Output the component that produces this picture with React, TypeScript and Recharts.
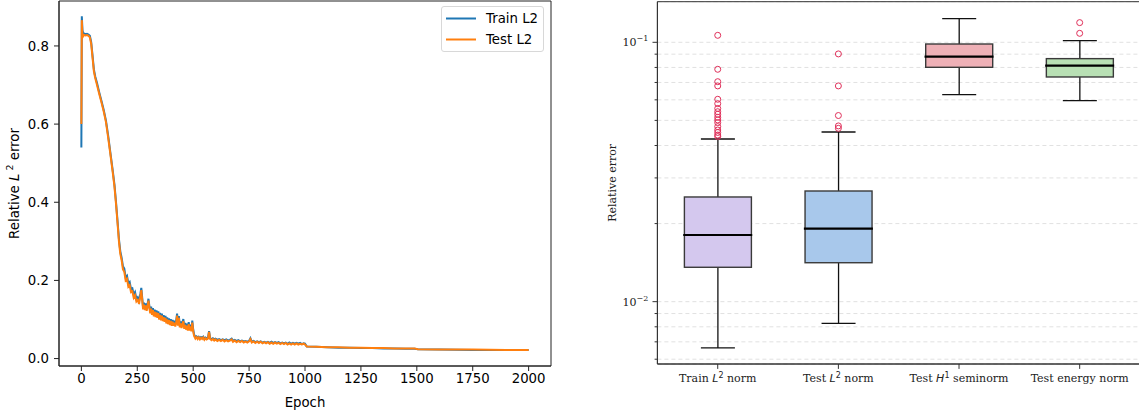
import React from 'react';
import {
  LineChart,
  Line,
  XAxis,
  YAxis,
  ComposedChart,
  Bar,
  Scatter,
  CartesianGrid,
  ReferenceArea,
} from 'recharts';

// ---------------- Left panel data ----------------
const epochs = [
  0, 2, 5, 8, 12, 18, 25, 32, 38, 44, 50, 56, 62, 70, 80, 90, 100, 110, 120, 130,
  140, 148, 155, 162, 168, 174, 180, 186, 192, 198, 204, 210, 216, 222, 228, 234, 240, 246, 252, 258,
  264, 268, 272,
  276, 280, 284, 288, 292, 296, 300, 304, 308, 312, 316, 320, 324, 328, 332, 336, 340, 344, 348, 352,
  356, 360, 364, 368, 372, 376, 380, 384, 388, 392, 396, 400, 404, 408, 412, 416, 420, 424, 428, 432,
  436, 440, 444, 448, 452, 456, 460, 464, 468, 472, 476, 480, 484, 488, 492, 496, 500,
  504, 510, 515, 520, 525, 530, 535, 540, 545, 550, 555, 560, 566, 571, 576, 582, 588, 594, 600, 608,
  616, 624, 632, 640, 648, 656, 664, 672, 678, 686, 694, 702, 710, 718, 726, 734, 742, 750, 756, 762,
  770, 778, 786, 794, 802, 810, 818, 826, 834, 842, 850, 858, 866, 874, 882, 890, 898, 906, 914, 922,
  930, 938, 946, 954, 962, 970, 978, 986, 994, 1000, 1008,
  1050, 1100, 1150, 1200, 1250, 1300, 1350, 1400, 1450, 1490, 1505, 1600, 1750, 1900, 2000,
];
const trainL2 = [
  0.540, 0.876, 0.840, 0.833, 0.832, 0.830, 0.831, 0.829, 0.826, 0.810, 0.775, 0.740, 0.722, 0.705, 0.681, 0.659, 0.636, 0.609, 0.570, 0.526,
  0.482, 0.445, 0.400, 0.350, 0.306, 0.275, 0.258, 0.236, 0.230, 0.208, 0.212, 0.192, 0.196, 0.178, 0.180, 0.164, 0.170, 0.153, 0.157, 0.147,
  0.166, 0.181, 0.156,
  0.131, 0.143, 0.129, 0.141, 0.127, 0.139, 0.153, 0.135, 0.121, 0.133, 0.117, 0.129, 0.113, 0.125, 0.111, 0.123, 0.109, 0.121, 0.105, 0.117,
  0.103, 0.115, 0.101, 0.111, 0.099, 0.109, 0.095, 0.105, 0.093, 0.103, 0.091, 0.101, 0.089, 0.099, 0.089, 0.097, 0.087, 0.097, 0.115, 0.089,
  0.109, 0.085, 0.095, 0.083, 0.093, 0.101, 0.081, 0.091, 0.079, 0.089, 0.077, 0.093, 0.077, 0.087, 0.075, 0.097, 0.075,
  0.062, 0.055, 0.057, 0.053, 0.056, 0.052, 0.055, 0.053, 0.056, 0.051, 0.054, 0.052, 0.053, 0.070, 0.052, 0.050, 0.052, 0.049, 0.051, 0.048,
  0.050, 0.047, 0.049, 0.047, 0.049, 0.046, 0.048, 0.051, 0.046, 0.048, 0.045, 0.047, 0.044, 0.046, 0.044, 0.045, 0.043, 0.045, 0.052, 0.043,
  0.045, 0.042, 0.044, 0.042, 0.044, 0.041, 0.043, 0.041, 0.043, 0.040, 0.043, 0.040, 0.042, 0.040, 0.042, 0.039, 0.041, 0.039, 0.041, 0.038,
  0.041, 0.038, 0.040, 0.038, 0.040, 0.038, 0.040, 0.037, 0.039, 0.038, 0.031,
  0.030, 0.029, 0.028, 0.028, 0.027, 0.027, 0.026, 0.026, 0.025, 0.025, 0.024, 0.023, 0.022, 0.022, 0.022,
];
const testL2 = [
  0.600, 0.866, 0.822, 0.825, 0.828, 0.827, 0.828, 0.826, 0.822, 0.805, 0.770, 0.735, 0.718, 0.700, 0.677, 0.655, 0.632, 0.605, 0.565, 0.522,
  0.478, 0.440, 0.395, 0.345, 0.300, 0.268, 0.252, 0.228, 0.222, 0.200, 0.204, 0.184, 0.188, 0.170, 0.172, 0.156, 0.162, 0.146, 0.150, 0.140,
  0.160, 0.175, 0.150,
  0.126, 0.138, 0.124, 0.136, 0.122, 0.134, 0.148, 0.130, 0.116, 0.128, 0.112, 0.124, 0.108, 0.120, 0.106, 0.118, 0.104, 0.116, 0.100, 0.112,
  0.098, 0.110, 0.096, 0.106, 0.094, 0.104, 0.090, 0.100, 0.088, 0.098, 0.086, 0.096, 0.084, 0.094, 0.084, 0.092, 0.082, 0.092, 0.110, 0.084,
  0.104, 0.080, 0.090, 0.078, 0.088, 0.096, 0.076, 0.086, 0.074, 0.084, 0.072, 0.088, 0.072, 0.082, 0.070, 0.092, 0.070,
  0.058, 0.051, 0.055, 0.050, 0.054, 0.049, 0.053, 0.050, 0.054, 0.048, 0.052, 0.049, 0.051, 0.068, 0.050, 0.047, 0.050, 0.046, 0.049, 0.045,
  0.048, 0.045, 0.048, 0.044, 0.047, 0.044, 0.046, 0.049, 0.043, 0.046, 0.042, 0.045, 0.042, 0.045, 0.041, 0.044, 0.041, 0.044, 0.050, 0.041,
  0.044, 0.040, 0.043, 0.040, 0.043, 0.039, 0.042, 0.039, 0.042, 0.038, 0.041, 0.038, 0.041, 0.038, 0.040, 0.037, 0.040, 0.037, 0.040, 0.036,
  0.039, 0.036, 0.039, 0.036, 0.039, 0.036, 0.038, 0.036, 0.038, 0.036, 0.031,
  0.030, 0.029, 0.029, 0.028, 0.028, 0.027, 0.027, 0.026, 0.026, 0.026, 0.024, 0.023, 0.023, 0.022, 0.022,
];
const epochTicks = [0, 250, 500, 750, 1000, 1250, 1500, 1750, 2000];
const errorTicks = [0, 0.2, 0.4, 0.6, 0.8];
const lineNames = ['Train L2', 'Test L2'];
const lineColors = ['#1f77b4', '#ff7f0e'];

// ---------------- Right panel data ----------------
const boxCategories = ['Train L2 norm', 'Test L2 norm', 'Test H1 seminorm', 'Test energy norm'];
const boxLabelParts: string[][] = [
  ['Train ', 'L', '2', ' norm'],
  ['Test ', 'L', '2', ' norm'],
  ['Test ', 'H', '1', ' seminorm'],
  ['Test energy norm', '', '', ''],
];
const whiskerLow = [0.00663, 0.00825, 0.0629, 0.0596];
const boxQ1 = [0.01357, 0.01413, 0.0801, 0.0735];
const boxMedian = [0.01807, 0.01912, 0.088, 0.0813];
const boxQ3 = [0.02533, 0.02671, 0.0985, 0.0865];
const whiskerHigh = [0.04239, 0.0451, 0.1234, 0.1015];
const boxColors = ['#d4c8ee', '#a8c8eb', '#eeb0b6', '#b8e0b4'];
const outlierCategoryIndex = [
  0, 0, 0, 0, 0, 0, 0, 0, 0, 0, 0, 0, 0, 0, 0, 0, 0,
  1, 1, 1, 1, 1,
  3, 3,
];
const outlierValues = [
  0.1064, 0.0787, 0.0705, 0.0679, 0.0603, 0.058, 0.0556, 0.054, 0.0528, 0.0514, 0.0502, 0.049, 0.0473, 0.0459, 0.0449, 0.0439, 0.0433,
  0.0902, 0.0679, 0.0522, 0.0476, 0.0466,
  0.1191, 0.1083,
];
const logTicks = [
  0.006, 0.007, 0.008, 0.009, 0.01, 0.02, 0.03, 0.04, 0.05, 0.06, 0.07, 0.08, 0.09, 0.1,
];

const lineData = epochs.map((e, i) => ({ epoch: e, train: trainL2[i], test: testL2[i] }));
const boxData = boxCategories.map((c, i) => ({
  cat: c,
  lower: [whiskerLow[i], boxQ1[i]],
  box: [boxQ1[i], boxQ3[i]],
  upper: [boxQ3[i], whiskerHigh[i]],
  idx: i,
}));
const medianData = boxCategories.map((c, i) => ({ cat: c, v: boxMedian[i] }));
const outlierData = outlierValues.map((v, i) => ({ cat: boxCategories[outlierCategoryIndex[i]], v }));

const SANS = 'DejaVu Sans';
const SERIF = 'DejaVu Serif';
const BOX_W = 67;
const CAP_W = 34;
const LIN_X: [number, number] = [-100, 2100];
const LIN_Y: [number, number] = [-0.019, 0.915];
const LOG_DOMAIN: [number, number] = [0.00575, 0.1434];

const LeftYLabel = (props: any) => {
  const vb = props.viewBox || { x: 0, y: 0, width: 0, height: 0 };
  const cx = vb.x + 14;
  const cy = vb.y + vb.height / 2;
  return (
    <text
      x={cx}
      y={cy}
      transform={`rotate(-90 ${cx} ${cy})`}
      textAnchor="middle"
      dominantBaseline="central"
      fontFamily={SANS}
      fontSize={13.3}
      fill="#000"
    >
      <tspan>Relative </tspan>
      <tspan fontStyle="italic">L</tspan>
      <tspan fontSize={9.5} dy={-5}>{' 2'}</tspan>
      <tspan dy={5}> error</tspan>
    </text>
  );
};

const LeftXLabel = (props: any) => {
  const vb = props.viewBox || { x: 0, y: 0, width: 0, height: 0 };
  return (
    <text
      x={vb.x + vb.width / 2}
      y={vb.y + 36}
      textAnchor="middle"
      dominantBaseline="central"
      fontFamily={SANS}
      fontSize={13.3}
      fill="#000"
    >
      Epoch
    </text>
  );
};

const RightYLabel = (props: any) => {
  const vb = props.viewBox || { x: 0, y: 0, width: 0, height: 0 };
  const cx = vb.x + 13;
  const cy = vb.y + vb.height / 2;
  return (
    <text
      x={cx}
      y={cy}
      transform={`rotate(-90 ${cx} ${cy})`}
      textAnchor="middle"
      dominantBaseline="central"
      fontFamily={SERIF}
      fontSize={11}
      fill="#222"
    >
      Relative error
    </text>
  );
};

const LogTick = (props: any) => {
  const { x, y, payload } = props;
  const v = payload.value as number;
  const e = Math.round(Math.log10(v));
  const major = Math.abs(v - Math.pow(10, e)) < 1e-12;
  const len = major ? 4.9 : 2.8;
  return (
    <g>
      <line x1={x} x2={x - len} y1={y} y2={y} stroke="#333" strokeWidth={1} />
      {major && (
        <text
          x={x - 9}
          y={y}
          textAnchor="end"
          dominantBaseline="central"
          fontFamily={SERIF}
          fontSize={11}
          fill="#222"
        >
          <tspan>10</tspan>
          <tspan fontSize={8} dy={-4}>{'\u2212' + Math.abs(e)}</tspan>
        </text>
      )}
    </g>
  );
};

const CatTick = (props: any) => {
  const { x, y, payload } = props;
  const i = boxCategories.indexOf(payload.value);
  const parts = boxLabelParts[i] || [String(payload.value), '', '', ''];
  return (
    <g>
      <line x1={x} x2={x} y1={y} y2={y + 4.9} stroke="#333" strokeWidth={1} />
      <text x={x} y={y + 18} textAnchor="middle" fontFamily={SERIF} fontSize={11} fill="#222">
        <tspan>{parts[0]}</tspan>
        {parts[1] ? (
          <tspan fontFamily={SANS} fontStyle="italic">
            {parts[1]}
          </tspan>
        ) : null}
        {parts[2] ? (
          <tspan fontFamily={SANS} fontSize={8} dy={-4}>
            {parts[2]}
          </tspan>
        ) : null}
        {parts[3] ? <tspan dy={parts[2] ? 4 : 0}>{parts[3]}</tspan> : null}
      </text>
    </g>
  );
};

const BoxShape = (props: any) => {
  const { x, y, width, height, payload } = props;
  const fill = boxColors[payload.idx];
  return (
    <rect x={x} y={y} width={width} height={height} fill={fill} stroke="#3a3a3a" strokeWidth={1.4} />
  );
};

const LowerWhisker = (props: any) => {
  const { x, y, width, height } = props;
  const cx = x + width / 2;
  return (
    <g>
      <line x1={cx} x2={cx} y1={y} y2={y + height} stroke="#111" strokeWidth={1.3} />
      <line x1={cx - CAP_W / 2} x2={cx + CAP_W / 2} y1={y + height} y2={y + height} stroke="#111" strokeWidth={1.3} />
    </g>
  );
};

const UpperWhisker = (props: any) => {
  const { x, y, width, height } = props;
  const cx = x + width / 2;
  return (
    <g>
      <line x1={cx} x2={cx} y1={y} y2={y + height} stroke="#111" strokeWidth={1.3} />
      <line x1={cx - CAP_W / 2} x2={cx + CAP_W / 2} y1={y} y2={y} stroke="#111" strokeWidth={1.3} />
    </g>
  );
};

const MedianShape = (props: any) => {
  const { cx, cy } = props;
  return (
    <line x1={cx - BOX_W / 2 - 1} x2={cx + BOX_W / 2 + 1} y1={cy} y2={cy} stroke="#000" strokeWidth={2.2} />
  );
};

const OutlierShape = (props: any) => {
  const { cx, cy } = props;
  return <circle cx={cx} cy={cy} r={3} fill="none" stroke="#e0305a" strokeWidth={1} />;
};

export default function App() {
  return (
    <div
      style={{
        position: 'absolute',
        left: 0,
        top: 0,
        width: 1139,
        height: 413,
        overflow: 'hidden',
        background: '#fff',
      }}
    >
      <div style={{ position: 'absolute', left: 0, top: 0 }}>
        <LineChart width={560} height={413} data={lineData} margin={{ top: 1, right: 9, bottom: 0, left: 0 }}>
          <XAxis
            dataKey="epoch"
            type="number"
            domain={LIN_X}
            ticks={epochTicks}
            interval={0}
            allowDataOverflow
            height={47}
            tickSize={5}
            tickMargin={3}
            stroke="#222"
            tick={{ fill: '#000', fontSize: 13.3, fontFamily: SANS }}
            label={<LeftXLabel />}
          />
          <YAxis
            type="number"
            domain={LIN_Y}
            ticks={errorTicks}
            interval={0}
            allowDataOverflow
            width={59}
            tickSize={5}
            tickMargin={5}
            stroke="#222"
            tickFormatter={(v: number) => v.toFixed(1)}
            tick={{ fill: '#000', fontSize: 13.3, fontFamily: SANS }}
            label={<LeftYLabel />}
          />
          <ReferenceArea
            x1={LIN_X[0]}
            x2={LIN_X[1]}
            y1={LIN_Y[0]}
            y2={LIN_Y[1]}
            fill="none"
            fillOpacity={0}
            stroke="#222"
            strokeWidth={1}
            ifOverflow="visible"
          />
          <Line
            dataKey="train"
            name={lineNames[0]}
            stroke={lineColors[0]}
            strokeWidth={2}
            dot={false}
            type="linear"
            isAnimationActive={false}
          />
          <Line
            dataKey="test"
            name={lineNames[1]}
            stroke={lineColors[1]}
            strokeWidth={2}
            dot={false}
            type="linear"
            isAnimationActive={false}
          />
        </LineChart>
        <div
          style={{
            position: 'absolute',
            left: 441,
            top: 6,
            width: 101,
            height: 44,
            border: '1px solid #d8d8d8',
            borderRadius: 3,
            background: 'rgba(255,255,255,0.8)',
            fontFamily: SANS,
            fontSize: 13.3,
            color: '#000',
          }}
        >
          {lineNames.map((n, i) => (
            <div
              key={n}
              style={{
                position: 'absolute',
                left: 0,
                top: 1 + i * 21,
                height: 21,
                display: 'flex',
                alignItems: 'center',
              }}
            >
              <svg width={44} height={21} style={{ display: 'block' }}>
                <line x1={4} x2={34} y1={10.5} y2={10.5} stroke={lineColors[i]} strokeWidth={2} />
              </svg>
              <span style={{ whiteSpace: 'nowrap', lineHeight: '21px' }}>{n}</span>
            </div>
          ))}
        </div>
      </div>

      <div style={{ position: 'absolute', left: 600, top: 0 }}>
        <ComposedChart
          width={540}
          height={413}
          data={boxData}
          margin={{ top: 1.7, right: 0, bottom: 0, left: 0 }}
          barGap={-BOX_W}
        >
          <CartesianGrid vertical={false} stroke="#d9d9d9" strokeDasharray="4 3" strokeWidth={0.8} />
          <XAxis
            dataKey="cat"
            type="category"
            allowDuplicatedCategory={false}
            height={49}
            tickSize={0}
            tickMargin={0}
            tickLine={false}
            interval={0}
            stroke="#333"
            tick={<CatTick />}
          />
          <YAxis
            scale="log"
            type="number"
            domain={LOG_DOMAIN}
            ticks={logTicks}
            interval={0}
            allowDataOverflow
            width={57.4}
            tickSize={0}
            tickMargin={0}
            tickLine={false}
            stroke="#333"
            tick={<LogTick />}
            label={<RightYLabel />}
          />
          <ReferenceArea
            y1={LOG_DOMAIN[0]}
            y2={LOG_DOMAIN[1]}
            fill="none"
            fillOpacity={0}
            stroke="#333"
            strokeWidth={1}
            ifOverflow="visible"
          />
          <Bar dataKey="lower" barSize={BOX_W} shape={<LowerWhisker />} isAnimationActive={false} />
          <Bar dataKey="upper" barSize={BOX_W} shape={<UpperWhisker />} isAnimationActive={false} />
          <Bar dataKey="box" barSize={BOX_W} shape={<BoxShape />} isAnimationActive={false} />
          <Scatter data={medianData} dataKey="v" shape={<MedianShape />} isAnimationActive={false} />
          <Scatter data={outlierData} dataKey="v" shape={<OutlierShape />} isAnimationActive={false} />
        </ComposedChart>
      </div>
    </div>
  );
}
